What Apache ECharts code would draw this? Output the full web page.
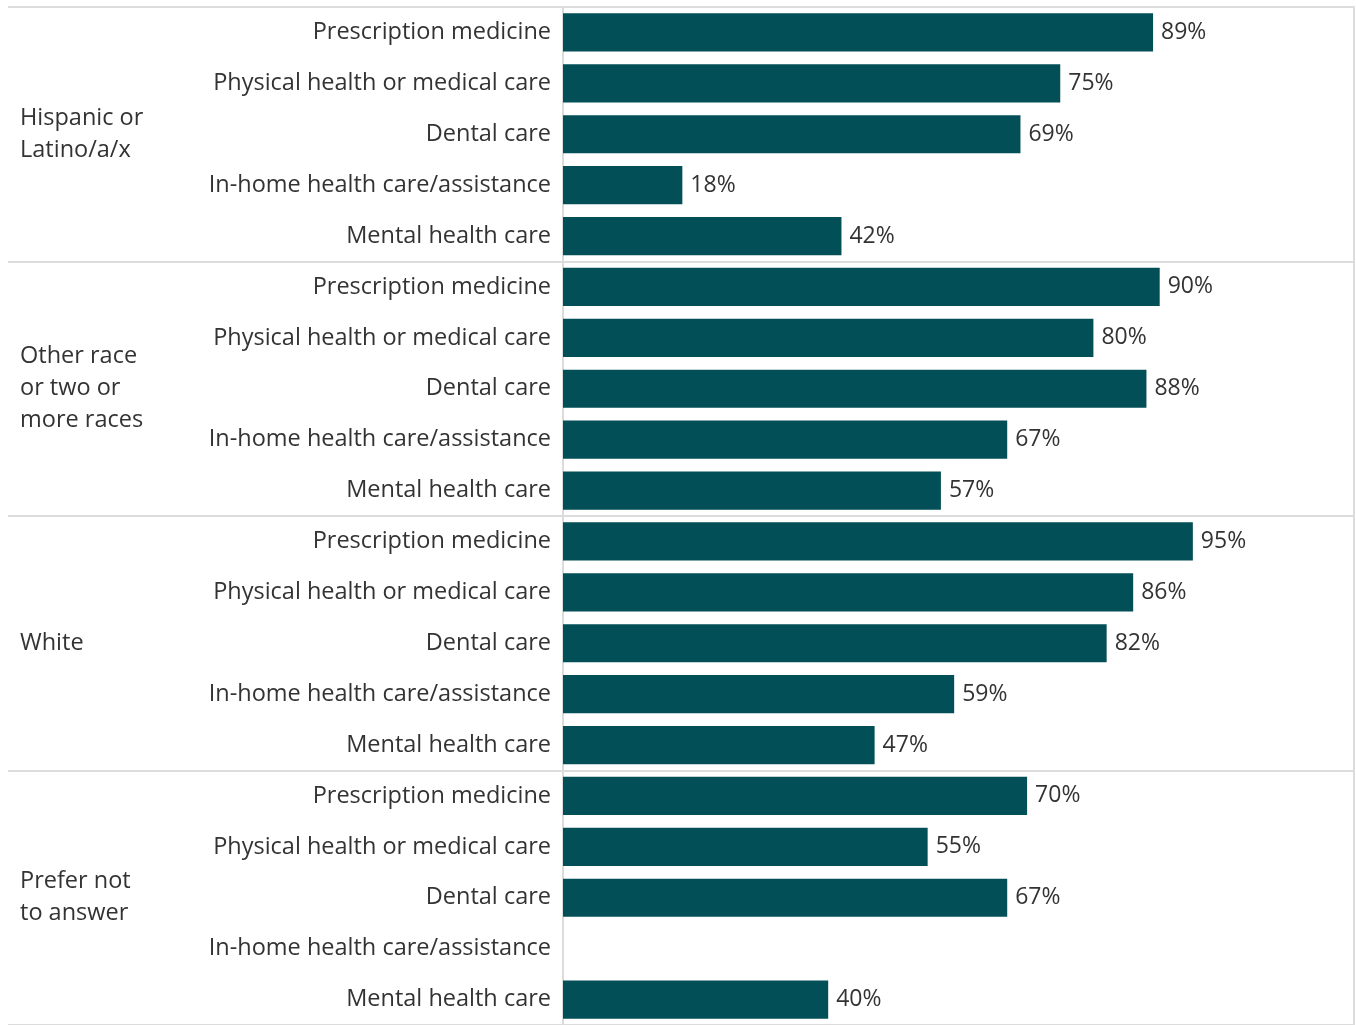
<!DOCTYPE html>
<html>
<head>
<meta charset="utf-8">
<script src="https://cdn.jsdelivr.net/npm/echarts@6/dist/echarts.min.js"></script>
<style>
  html, body { margin: 0; padding: 0; background: #fff; }
  #chart { width: 1356px; height: 1025px; }
</style>
</head>
<body>
<div id="chart"></div>
<script>
  // groups and items
  var groups = ['Hispanic or\nLatino/a/x', 'Other race\nor two or\nmore races', 'White', 'Prefer not\nto answer'];
  var items = ['Prescription medicine', 'Physical health or medical care', 'Dental care', 'In-home health care/assistance', 'Mental health care'];
  var hispanic = [89, 75, 69, 18, 42];
  var otherRace = [90, 80, 88, 67, 57];
  var white = [95, 86, 82, 59, 47];
  var preferNot = [70, 55, 67, null, 40];

  var font = '"Open Sans", "Noto Sans", sans-serif';
  var textColor = '#333';
  var lineColor = '#dcdcdc';

  var rows = [];
  var values = [];
  [hispanic, otherRace, white, preferNot].forEach(function (arr) {
    arr.forEach(function (v, i) {
      rows.push(items[i]);
      values.push(v);
    });
  });

  var myChart = echarts.init(document.getElementById('chart'));
  var option = {
    animation: false,
    grid: [
      { left: 563, top: 7, width: 663, height: 1020 },
      { left: 8, right: 2, top: 7, height: 1020 }
    ],
    xAxis: [
      { gridIndex: 0, type: 'value', min: 0, max: 100, show: false },
      { gridIndex: 1, type: 'value', min: 0, max: 1, show: false }
    ],
    yAxis: [
      {
        gridIndex: 0, type: 'category', data: rows, inverse: true,
        axisLine: { show: true, lineStyle: { color: lineColor, width: 2 } },
        axisTick: { show: false },
        splitLine: { show: false },
        axisLabel: {
          interval: 0, margin: 12, fontSize: 23.5, color: textColor, fontFamily: font,
          padding: [4, 0, 0, 0]
        }
      },
      {
        gridIndex: 1, type: 'category', data: groups, inverse: true,
        axisLine: { show: false },
        axisTick: { show: false },
        splitLine: { show: true, interval: 0, lineStyle: { color: lineColor, width: 2 } },
        axisLabel: {
          inside: true, align: 'left', interval: 0, margin: 12,
          fontSize: 23.5, lineHeight: 32, color: textColor, fontFamily: font
        }
      },
      {
        gridIndex: 1, type: 'value', position: 'right', min: 0, max: 1,
        axisLine: { show: true, lineStyle: { color: lineColor, width: 2 } },
        axisTick: { show: false }, axisLabel: { show: false }, splitLine: { show: false }
      }
    ],
    series: [
      {
        type: 'bar',
        xAxisIndex: 0, yAxisIndex: 0,
        data: values,
        barCategoryGap: '25%',
        itemStyle: { color: '#024f57' },
        label: {
          show: true, position: 'right', distance: 8,
          fontSize: 23, color: textColor, fontFamily: font,
          formatter: function (p) { return p.value + '%'; }
        }
      }
    ]
  };
  myChart.setOption(option, true);
</script>
</body>
</html>
